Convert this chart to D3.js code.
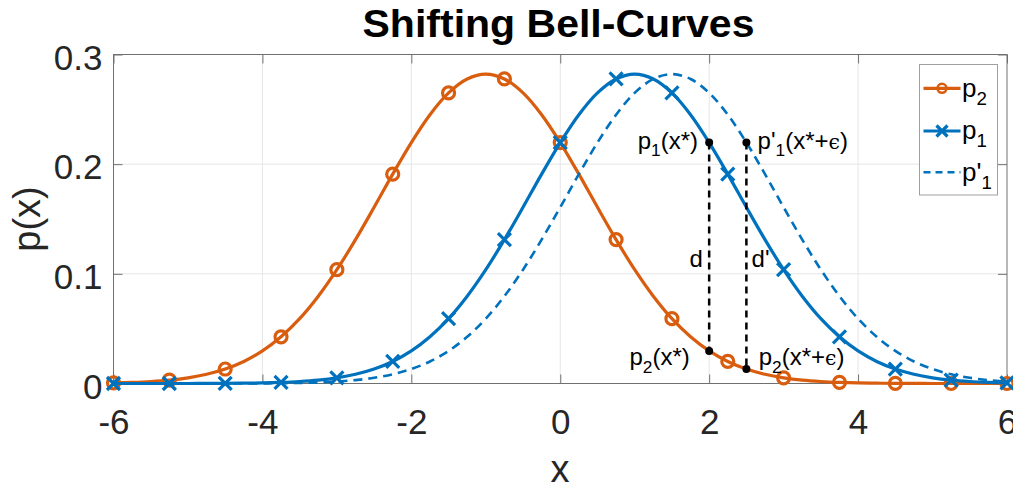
<!DOCTYPE html>
<html>
<head>
<meta charset="utf-8">
<script src="https://cdn.jsdelivr.net/npm/d3@7"></script>
<style>
  body { margin: 0; background: #fff; }
  text { font-family: "Liberation Sans", Arial, Helvetica, sans-serif; }
</style>
</head>
<body>
<svg id="chart" width="1013" height="487"></svg>
<script>
// Sample positions along x
const xValues = [
  -6, -5.75, -5.5, -5.25, -5, -4.75, -4.5, -4.25, -4, -3.75, -3.5, -3.25,
  -3, -2.75, -2.5, -2.25, -2, -1.75, -1.5, -1.25, -1, -0.75, -0.5, -0.25,
  0, 0.25, 0.5, 0.75, 1, 1.25, 1.5, 1.75, 2, 2.25, 2.5, 2.75,
  3, 3.25, 3.5, 3.75, 4, 4.25, 4.5, 4.75, 5, 5.25, 5.5, 5.75, 6
];

// p2: bell curve peaking near x = -1
const p2Values = [
  0.0005, 0.0010, 0.0018, 0.0031, 0.0052, 0.0084, 0.0132, 0.0201, 0.0297, 0.0426, 0.0591, 0.0796,
  0.1038, 0.1312, 0.1607, 0.1909, 0.2197, 0.2451, 0.2650, 0.2777, 0.2821, 0.2777, 0.2650, 0.2451,
  0.2197, 0.1909, 0.1607, 0.1312, 0.1038, 0.0796, 0.0591, 0.0426, 0.0297, 0.0201, 0.0132, 0.0084,
  0.0052, 0.0031, 0.0018, 0.0010, 0.0005, 0.0003, 0.0001, 0.0001, 0, 0, 0, 0, 0
];

// p1: bell curve peaking near x = 1
const p1Values = [
  0, 0, 0, 0, 0, 0.0001, 0.0001, 0.0003, 0.0005, 0.0010, 0.0018, 0.0031,
  0.0052, 0.0084, 0.0132, 0.0201, 0.0297, 0.0426, 0.0591, 0.0796, 0.1038, 0.1312, 0.1607, 0.1909,
  0.2197, 0.2451, 0.2650, 0.2777, 0.2821, 0.2777, 0.2650, 0.2451, 0.2197, 0.1909, 0.1607, 0.1312,
  0.1038, 0.0796, 0.0591, 0.0426, 0.0297, 0.0201, 0.0132, 0.0084, 0.0052, 0.0031, 0.0018, 0.0010, 0.0005
];

// p'1: p1 moved right, peaking near x = 1.5
const p1ShiftedValues = [
  0, 0, 0, 0, 0, 0, 0, 0.0001, 0.0001, 0.0003, 0.0005, 0.0010,
  0.0018, 0.0031, 0.0052, 0.0084, 0.0132, 0.0201, 0.0297, 0.0426, 0.0591, 0.0796, 0.1038, 0.1312,
  0.1607, 0.1909, 0.2197, 0.2451, 0.2650, 0.2777, 0.2821, 0.2777, 0.2650, 0.2451, 0.2197, 0.1909,
  0.1607, 0.1312, 0.1038, 0.0796, 0.0591, 0.0426, 0.0297, 0.0201, 0.0132, 0.0084, 0.0052, 0.0031, 0.0018
];

const xTicks = [-6, -4, -2, 0, 2, 4, 6];
const yTicks = [0, 0.1, 0.2, 0.3];
const xTickLabels = ["-6", "-4", "-2", "0", "2", "4", "6"];
const yTickLabels = ["0", "0.1", "0.2", "0.3"];

const titleText = "Shifting Bell-Curves";
const xLabelText = "x";
const yLabelText = "p(x)";

// Marked points on the distance segments
const dotPoints = [
  { x: 2,   y: 0.2197 },
  { x: 2.5, y: 0.2197 },
  { x: 2,   y: 0.0297 },
  { x: 2.5, y: 0.0132 }
];

// Vertical distance segments
const segments = [
  { x: 2,   y0: 0.2197, y1: 0.0297 },
  { x: 2.5, y0: 0.2197, y1: 0.0132 }
];

// Text annotations (data coordinates, TeX-like markup)
const notes = [
  { x: 1.85,  y: 0.2197, text: "p_1(x*)",            anchor: "end" },
  { x: 2.65,  y: 0.2197, text: "p'_1(x*+\\epsilon)",  anchor: "start" },
  { x: 1.74,  y: 0.0225, text: "p_2(x*)",            anchor: "end" },
  { x: 2.665, y: 0.0225, text: "p_2(x*+\\epsilon)",   anchor: "start" },
  { x: 1.915, y: 0.112,  text: "d",                  anchor: "end" },
  { x: 2.57,  y: 0.112,  text: "d'",                 anchor: "start" }
];

const legendLabels = ["p_2", "p_1", "p'_1"];

// ---------------------------------------------------------------------------
const orange = "#D95D0E";
const blue = "#0072BD";
const markerEvery = 3;

const svg = d3.select("#chart");
const box = { left: 113.5, right: 1007, top: 54.5, bottom: 383.5 };

const x = d3.scaleLinear().domain([-6, 6]).range([box.left, box.right]);
const y = d3.scaleLinear().domain([0, 0.3]).range([box.bottom, box.top]);

// Grid
const grid = svg.append("g").attr("class", "grid");
grid.selectAll("line.gx").data(xTicks.slice(1, -1)).join("line")
  .attr("x1", d => x(d)).attr("x2", d => x(d))
  .attr("y1", box.top).attr("y2", box.bottom)
  .attr("stroke", "#e6e6e6").attr("stroke-width", 1);
grid.selectAll("line.gy").data(yTicks.slice(1, -1)).join("line")
  .attr("x1", box.left).attr("x2", box.right)
  .attr("y1", d => y(d)).attr("y2", d => y(d))
  .attr("stroke", "#e6e6e6").attr("stroke-width", 1);

// Axes (inward ticks on all four sides)
const axisColor = "#707070";
const tickFont = 35;
function styleAxis(g) {
  g.select(".domain").remove();
  g.selectAll(".tick line").attr("stroke", axisColor);
  g.selectAll(".tick text").style("fill", "#262626").style("font-size", tickFont + "px");
}
svg.append("g").attr("transform", `translate(0,${box.bottom})`)
  .call(d3.axisBottom(x).tickValues(xTicks).tickSize(-9).tickPadding(26)
    .tickFormat((d, i) => xTickLabels[i]))
  .call(styleAxis);
svg.append("g").attr("transform", `translate(0,${box.top})`)
  .call(d3.axisTop(x).tickValues(xTicks).tickSize(-9).tickFormat(""))
  .call(styleAxis);
const yAxisG = svg.append("g").attr("transform", `translate(${box.left},0)`)
  .call(d3.axisLeft(y).tickValues(yTicks).tickSize(-9).tickPadding(11)
    .tickFormat((d, i) => yTickLabels[i]))
  .call(styleAxis);
yAxisG.selectAll(".tick text").attr("dy", "0.42em");
svg.append("g").attr("transform", `translate(${box.right},0)`)
  .call(d3.axisRight(y).tickValues(yTicks).tickSize(-9).tickFormat(""))
  .call(styleAxis);

svg.append("rect")
  .attr("x", box.left).attr("y", box.top)
  .attr("width", box.right - box.left).attr("height", box.bottom - box.top)
  .attr("fill", "none").attr("stroke", axisColor).attr("stroke-width", 1);

// Rich text: "_c" makes c a subscript, "\epsilon" becomes the lunate epsilon
function tokens(str) {
  const out = [];
  let i = 0;
  while (i < str.length) {
    if (str[i] === "_") { out.push({ t: str[i + 1], sub: true }); i += 2; }
    else if (str.startsWith("\\epsilon", i)) { out.push({ t: "\u03f5", eps: true }); i += 8; }
    else { out.push({ t: str[i] }); i += 1; }
  }
  return out;
}
function richText(sel, str, fs) {
  let shifted = false;
  tokens(str).forEach(tok => {
    const ts = sel.append("tspan").text(tok.t);
    if (tok.sub) {
      ts.style("font-size", (fs * 0.72) + "px").attr("dy", fs * 0.3);
      shifted = true;
    } else {
      if (shifted) { ts.attr("dy", -fs * 0.3); shifted = false; }
      if (tok.eps) ts.style("font-size", (fs * 0.85) + "px").style("font-family", "DejaVu Serif, serif");
    }
  });
}

// Curves
const line = d3.line().x(d => x(d[0])).y(d => y(d[1])).curve(d3.curveCatmullRom);
const seriesP2 = xValues.map((v, i) => [v, p2Values[i]]);
const seriesP1 = xValues.map((v, i) => [v, p1Values[i]]);
const seriesP1s = xValues.map((v, i) => [v, p1ShiftedValues[i]]);

const crossPath = s => `M${-s},${-s}L${s},${s}M${-s},${s}L${s},${-s}`;

svg.append("path").datum(seriesP2).attr("d", line)
  .attr("fill", "none").attr("stroke", orange).attr("stroke-width", 3.2);
svg.append("g").selectAll("circle")
  .data(seriesP2.filter((d, i) => i % markerEvery === 0)).join("circle")
  .attr("cx", d => x(d[0])).attr("cy", d => y(d[1])).attr("r", 6)
  .attr("fill", "none").attr("stroke", orange).attr("stroke-width", 3.2);

svg.append("path").datum(seriesP1).attr("d", line)
  .attr("fill", "none").attr("stroke", blue).attr("stroke-width", 3.2);
svg.append("g").selectAll("path")
  .data(seriesP1.filter((d, i) => i % markerEvery === 0)).join("path")
  .attr("transform", d => `translate(${x(d[0])},${y(d[1])})`)
  .attr("d", crossPath(6.5))
  .attr("fill", "none").attr("stroke", blue).attr("stroke-width", 3.2);

svg.append("path").datum(seriesP1s).attr("d", line)
  .attr("fill", "none").attr("stroke", blue).attr("stroke-width", 2.6)
  .attr("stroke-dasharray", "9,6");

// Distance segments and points
svg.append("g").selectAll("line")
  .data(segments).join("line")
  .attr("x1", d => x(d.x)).attr("x2", d => x(d.x))
  .attr("y1", d => y(d.y0)).attr("y2", d => y(d.y1))
  .attr("stroke", "#000").attr("stroke-width", 2.5).attr("stroke-dasharray", "7,5");
svg.append("g").selectAll("circle")
  .data(dotPoints).join("circle")
  .attr("cx", d => x(d.x)).attr("cy", d => y(d.y)).attr("r", 4)
  .attr("fill", "#000");

const noteFont = 24;
svg.append("g").selectAll("text")
  .data(notes).join("text")
  .attr("x", d => x(d.x)).attr("y", d => y(d.y) + noteFont * 0.27)
  .attr("text-anchor", d => d.anchor)
  .style("font-size", noteFont + "px").style("fill", "#000")
  .each(function (d) { richText(d3.select(this), d.text, noteFont); });

// Legend
const legend = svg.append("g");
legend.append("rect")
  .attr("x", 919.5).attr("y", 64.5).attr("width", 78).attr("height", 130.5)
  .attr("fill", "#fff").attr("stroke", "#a0a0a0").attr("stroke-width", 1);
const legendRows = [88.3, 131, 172.3];
const legendFont = 26;
legendLabels.forEach((lab, i) => {
  const ly = legendRows[i];
  const g = legend.append("g");
  const ln = g.append("line").attr("x1", 923.5).attr("x2", 960.5).attr("y1", ly).attr("y2", ly)
    .attr("stroke", i === 0 ? orange : blue).attr("stroke-width", i === 2 ? 2.6 : 3.2);
  if (i === 2) ln.attr("stroke-dasharray", "7,5");
  if (i === 0) g.append("circle").attr("cx", 942).attr("cy", ly).attr("r", 4.5)
    .attr("fill", "none").attr("stroke", orange).attr("stroke-width", 2.6);
  if (i === 1) g.append("path").attr("transform", `translate(942,${ly})`).attr("d", crossPath(5.5))
    .attr("fill", "none").attr("stroke", blue).attr("stroke-width", 3.2);
  const t = g.append("text").attr("x", 962).attr("y", ly + 8.4)
    .style("font-size", legendFont + "px").style("fill", "#000");
  richText(t, lab, legendFont);
});

// Title and axis labels
svg.append("text")
  .attr("x", 558.5).attr("y", 37)
  .attr("text-anchor", "middle")
  .style("font-size", "38px").style("font-weight", "bold").style("fill", "#000")
  .attr("textLength", 392).attr("lengthAdjust", "spacingAndGlyphs")
  .text(titleText);

svg.append("text")
  .attr("x", 560).attr("y", 482)
  .attr("text-anchor", "middle")
  .style("font-size", "38px").style("fill", "#262626")
  .text(xLabelText);

svg.append("text")
  .attr("transform", `translate(40,219) rotate(-90)`)
  .attr("text-anchor", "middle")
  .style("font-size", "38px").style("fill", "#262626")
  .text(yLabelText);
</script>
</body>
</html>
